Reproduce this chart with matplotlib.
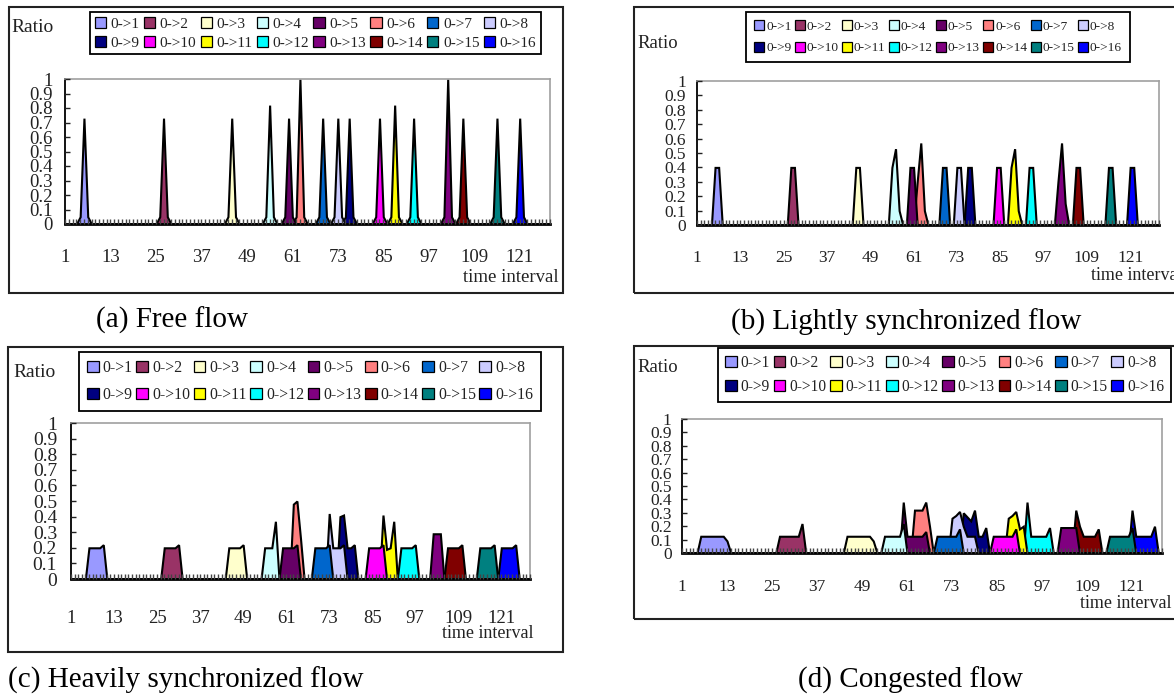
import numpy as np
import matplotlib
matplotlib.use("Agg")
import matplotlib.pyplot as plt
from matplotlib.patches import Patch, Rectangle

# ---------------- data ----------------
SERIES_LABELS = ["0->1", "0->2", "0->3", "0->4", "0->5", "0->6", "0->7", "0->8",
                 "0->9", "0->10", "0->11", "0->12", "0->13", "0->14", "0->15", "0->16"]
SERIES_COLORS = ["#9999FF", "#993366", "#FFFFCC", "#CCFFFF", "#660066", "#FF8080", "#0066CC", "#CCCCFF",
                 "#000080", "#FF00FF", "#FFFF00", "#00FFFF", "#800080", "#800000", "#008080", "#0000FF"]
TIME_INTERVALS = np.arange(1, 130)
X_TICK_LABELS = [1, 13, 25, 37, 49, 61, 73, 85, 97, 109, 121]
Y_TICK_VALUES = [0, 0.1, 0.2, 0.3, 0.4, 0.5, 0.6, 0.7, 0.8, 0.9, 1.0]
Y_TICK_LABELS = ["0", "0.1", "0.2", "0.3", "0.4", "0.5", "0.6", "0.7", "0.8", "0.9", "1"]

# (a) Free flow: first interval of each series and its ratios
FREE_START = [5, 26, 44, 54, 59, 62, 68, 72, 75, 83, 87, 92, 101, 105, 114, 120]
FREE_VALUES = [
    [0.05, 0.73, 0.05], [0.05, 0.73, 0.05], [0.05, 0.73, 0.05], [0.05, 0.82, 0.05],
    [0.05, 0.73, 0.05], [0.05, 1.00, 0.05], [0.05, 0.73, 0.05], [0.05, 0.73, 0.05],
    [0.05, 0.73, 0.05], [0.05, 0.73, 0.05], [0.05, 0.82, 0.05], [0.05, 0.73, 0.05],
    [0.05, 1.00, 0.05], [0.05, 0.73, 0.05], [0.05, 0.73, 0.05], [0.05, 0.73, 0.05],
]

# (b) Lightly synchronized flow
LIGHT_START = [6, 27, 45, 55, 60, 62, 69, 73, 76, 84, 88, 93, 101, 106, 115, 121]
LIGHT_VALUES = [
    [0.4, 0.4], [0.4, 0.4], [0.4, 0.4], [0.4, 0.53, 0.1],
    [0.4, 0.4], [0.3, 0.57, 0.1], [0.4, 0.4], [0.4, 0.4],
    [0.4, 0.4], [0.4, 0.4], [0.4, 0.53, 0.1], [0.4, 0.4],
    [0.3, 0.57, 0.15], [0.4, 0.4], [0.4, 0.4], [0.4, 0.4],
]

# (c) Heavily synchronized flow
HEAVY_START = [6, 27, 45, 55, 60, 63, 69, 73, 76, 84, 88, 93, 102, 106, 115, 121]
HEAVY_VALUES = [
    [0.2, 0.2, 0.2, 0.2, 0.22], [0.2, 0.2, 0.2, 0.2, 0.22], [0.2, 0.2, 0.2, 0.2, 0.22],
    [0.2, 0.2, 0.2, 0.37], [0.2, 0.2, 0.2, 0.2, 0.22], [0.48, 0.5, 0.26],
    [0.2, 0.2, 0.2, 0.2, 0.22], [0.42, 0.2, 0.2, 0.2, 0.22], [0.4, 0.41, 0.2, 0.2, 0.22],
    [0.2, 0.2, 0.2, 0.2, 0.22], [0.41, 0.19, 0.2, 0.37], [0.2, 0.2, 0.2, 0.2, 0.22],
    [0.29, 0.29, 0.29], [0.2, 0.2, 0.2, 0.2, 0.22], [0.2, 0.2, 0.2, 0.2, 0.22],
    [0.2, 0.2, 0.2, 0.2, 0.22],
]

# (d) Congested flow
CONG_START = [6, 27, 45, 55, 60, 63, 69, 73, 76, 84, 88, 93, 102, 106, 115, 121]
CONG_VALUES = [
    [0.125, 0.125, 0.125, 0.125, 0.125, 0.125, 0.125, 0.09],
    [0.125, 0.125, 0.125, 0.125, 0.125, 0.125, 0.22],
    [0.125, 0.125, 0.125, 0.125, 0.125, 0.125, 0.125, 0.09],
    [0.125, 0.125, 0.125, 0.125, 0.125, 0.22],
    [0.38, 0.125, 0.125, 0.125, 0.125, 0.125, 0.16],
    [0.32, 0.32, 0.32, 0.38, 0.2],
    [0.125, 0.125, 0.125, 0.125, 0.125, 0.125, 0.18],
    [0.26, 0.28, 0.31, 0.2, 0.125, 0.125, 0.125],
    [0.3, 0.27, 0.24, 0.32, 0.125, 0.125, 0.19],
    [0.125, 0.125, 0.125, 0.125, 0.125, 0.125, 0.18],
    [0.26, 0.28, 0.31, 0.18, 0.2],
    [0.38, 0.125, 0.125, 0.125, 0.125, 0.125, 0.19],
    [0.19, 0.19, 0.19, 0.19, 0.19],
    [0.32, 0.2, 0.125, 0.125, 0.125, 0.125, 0.18],
    [0.125, 0.125, 0.125, 0.125, 0.125, 0.125, 0.19],
    [0.32, 0.125, 0.125, 0.125, 0.125, 0.125, 0.2],
]

CAPTIONS = ["(a) Free flow", "(b) Lightly synchronized flow",
            "(c) Heavily synchronized flow", "(d) Congested flow"]

# ---------------- layout (pixels, origin top-left) ----------------
W, H = 1174, 695
SERIF = "Liberation Serif"
LAYOUT = [
    dict(box=(9, 7, 563, 293), plot=(65, 79, 550, 224), legend=(90, 12, 541, 60),
         leg_fs=11, leg_ls=0.35, leg_bp=0.3, leg_tp=0.3, xpad=18, ypad=9, xfs=13.5, yfs=13.5,
         ratio=(11, 28, 14), ti=(559, 277, "right"), tfs=13.5, cap=(172, 320)),
    dict(box=(634, 7, 1195, 293), plot=(697, 81, 1159, 225), legend=(746, 12, 1130, 67),
         leg_fs=9.6, leg_ls=0.7, leg_bp=0.6, leg_tp=0.15, xpad=18, ypad=8, xfs=12.5, yfs=12.5,
         ratio=(637, 43, 13.5), ti=(1091, 276, "left"), tfs=13, cap=(906, 322)),
    dict(box=(8, 347, 563, 652), plot=(71, 423, 530, 579), legend=(79, 352, 541, 416),
         leg_fs=11.3, leg_ls=0.7, leg_bp=0.5, leg_tp=0.25, xpad=22, ypad=10, xfs=13.5, yfs=14,
         ratio=(13, 372, 14), ti=(533, 633, "right"), tfs=13, cap=(186, 680)),
    dict(box=(634, 346, 1195, 619), plot=(682, 419, 1162, 553), legend=(718, 348, 1171, 406),
         leg_fs=11.2, leg_ls=0.5, leg_bp=0.45, leg_tp=0.25, xpad=19, ypad=7.5, xfs=12.5, yfs=12.5,
         ratio=(637, 368, 13.5), ti=(1172, 603, "right"), tfs=13, cap=(910, 680)),
]

fig = plt.figure(figsize=(W / 100, H / 100), dpi=100)


def frac_rect(x0, y0, x1, y1):
    return [x0 / W, 1 - y1 / H, (x1 - x0) / W, (y1 - y0) / H]


def draw_panel(start, values, caption, lay):
    # outer frame
    bx0, by0, bx1, by1 = lay["box"]
    fig.add_artist(Rectangle((bx0 / W, 1 - by1 / H), (bx1 - bx0) / W, (by1 - by0) / H,
                             transform=fig.transFigure, fill=False, edgecolor="#222222", linewidth=1.5))
    ax = fig.add_axes(frac_rect(*lay["plot"]))
    ax.set_axisbelow(False)
    n = len(TIME_INTERVALS)
    for i in range(len(SERIES_LABELS)):
        y = np.zeros(n)
        s = start[i] - TIME_INTERVALS[0]
        y[s:s + len(values[i])] = values[i]
        coll = ax.fill_between(TIME_INTERVALS, 0, y, facecolor=SERIES_COLORS[i],
                               edgecolor="black", linewidth=1.5, zorder=2.0 - 0.05 * i)
        coll.set_joinstyle("miter")
    ax.set_xlim(TIME_INTERVALS[0], TIME_INTERVALS[-1])
    ax.set_ylim(0, 1)
    ax.set_xticks(X_TICK_LABELS)
    ax.set_xticklabels([str(v) for v in X_TICK_LABELS], family=SERIF, fontsize=lay["xfs"])
    ax.set_xticks(TIME_INTERVALS, minor=True)
    ax.set_yticks(Y_TICK_VALUES)
    ax.set_yticklabels(Y_TICK_LABELS, family=SERIF, fontsize=lay["yfs"])
    ax.tick_params(axis="x", which="both", direction="in", length=3.8, width=1.0,
                   color="#444444", pad=lay["xpad"], labelcolor="#222222")
    ax.tick_params(axis="y", which="both", direction="in", length=3.8, width=1.0,
                   color="#222222", pad=lay["ypad"], labelcolor="#222222")
    ax.spines["left"].set_color("black")
    ax.spines["left"].set_linewidth(1.3)
    ax.spines["bottom"].set_color("black")
    ax.spines["bottom"].set_linewidth(2.0)
    for side in ("top", "right"):
        ax.spines[side].set_color("#A0A0A0")
        ax.spines[side].set_linewidth(1.2)
    ax.patch.set_alpha(0)

    # legend: two rows of eight
    order = [i for pair in zip(range(8), range(8, 16)) for i in pair]
    handles = [Patch(facecolor=SERIES_COLORS[i], edgecolor="black", linewidth=0.9) for i in order]
    labels = [SERIES_LABELS[i] for i in order]
    lx0, ly0, lx1, ly1 = lay["legend"]
    leg = fig.legend(handles, labels, ncol=8, loc="upper left",
                     bbox_to_anchor=(lx0 / W, 1 - ly0 / H, (lx1 - lx0) / W, 0),
                     mode="expand", borderaxespad=0, fancybox=False, frameon=True,
                     edgecolor="black", framealpha=1, prop={"family": SERIF, "size": lay["leg_fs"]},
                     handlelength=0.75, handleheight=0.75, handletextpad=lay["leg_tp"],
                     columnspacing=0.3, borderpad=lay["leg_bp"], labelspacing=lay["leg_ls"])
    leg.get_frame().set_linewidth(1.3)
    for t in leg.get_texts():
        t.set_color("#222222")

    rx, ry, rfs = lay["ratio"]
    fig.text(rx / W, 1 - ry / H, "Ratio", ha="left", va="center", family=SERIF,
             fontsize=rfs, color="#222222")
    tx, ty, tha = lay["ti"]
    fig.text(tx / W, 1 - ty / H, "time interval", ha=tha, va="center", family=SERIF,
             fontsize=lay["tfs"], color="#222222")
    cx, cy = lay["cap"]
    fig.text(cx / W, 1 - cy / H, caption, ha="center", va="center", family=SERIF,
             fontsize=21, color="black")


PANEL_DATA = [(FREE_START, FREE_VALUES), (LIGHT_START, LIGHT_VALUES),
              (HEAVY_START, HEAVY_VALUES), (CONG_START, CONG_VALUES)]
for (st, vals), cap, lay in zip(PANEL_DATA, CAPTIONS, LAYOUT):
    draw_panel(st, vals, cap, lay)

fig.savefig("out.png", dpi=100)
